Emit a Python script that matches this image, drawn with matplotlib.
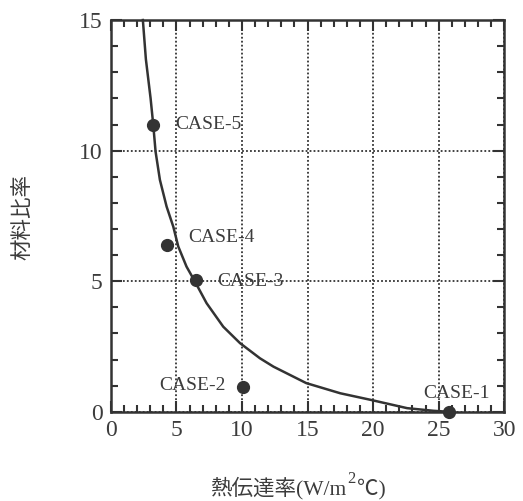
import matplotlib
matplotlib.use("Agg")
import matplotlib.pyplot as plt
from matplotlib.ticker import MultipleLocator

# Curve
curve_x = [2.44, 2.67, 3.03, 3.23, 3.41, 3.74, 4.25, 4.76, 5.14, 5.77, 6.41, 7.30, 8.57, 9.85,
           11.37, 12.4, 14.9, 17.5, 19.8, 22.6, 24.6, 25.8]
curve_y = [15.0, 13.5, 12.0, 11.0, 9.96, 8.88, 7.86, 7.09, 6.33, 5.56, 4.99, 4.16, 3.26, 2.63,
           2.05, 1.73, 1.10, 0.71, 0.46, 0.14, 0.04, 0.0]

# Case points
case_names = ["CASE-1", "CASE-2", "CASE-3", "CASE-4", "CASE-5"]
case_x = [25.8, 10.1, 6.49, 4.25, 3.23]
case_y = [0.0, 0.95, 5.03, 6.39, 11.0]
label_x = [23.8, 3.66, 8.1, 5.9, 4.89]
label_y = [0.71, 1.0, 4.99, 6.66, 11.0]

x_ticks = [0, 5, 10, 15, 20, 25, 30]
y_ticks = [0, 5, 10, 15]

xlabel_parts = ["熱伝達率(W/m", "2", "℃)"]
ylabel_text = "材料比率"

ink = "#333333"
txt = "#3c3c3c"
fig = plt.figure(figsize=(5.23, 5.01), dpi=100)
ax = fig.add_axes([0.212, 0.178, 0.752, 0.782])

ax.plot(curve_x, curve_y, color=ink, lw=1.8, zorder=3, clip_on=False,
        solid_joinstyle="round")
ax.plot(case_x, case_y, "o", color=ink, ms=8.5, zorder=4, clip_on=False)
for n, lx, ly in zip(case_names, label_x, label_y):
    ax.text(lx, ly, n, family="Liberation Serif", fontsize=14, color=txt,
            va="center", ha="left", zorder=5)

ax.set_xlim(0, 30)
ax.set_ylim(0, 15)
ax.set_xticks(x_ticks)
ax.set_yticks(y_ticks)
ax.xaxis.set_minor_locator(MultipleLocator(1))
ax.yaxis.set_minor_locator(MultipleLocator(1))
ax.tick_params(which="both", direction="in", top=True, right=True, color=ink, width=1.5)
ax.tick_params(which="major", length=8, labelsize=17, labelcolor=txt, pad=6)
ax.tick_params(which="minor", length=5)
for lab in ax.get_xticklabels() + ax.get_yticklabels():
    lab.set_family("Liberation Serif")
for s in ax.spines.values():
    s.set_linewidth(1.8)
    s.set_color(ink)

ax.grid(True, which="major", linestyle=(0, (1, 1.2)), color=ink, lw=1.3)

# x label built from pieces so the superscript 2 is large and raised
fam = ["Liberation Serif", "Noto Sans CJK JP", "DejaVu Sans"]
renderer = fig.canvas.get_renderer()
W, H = fig.bbox.width, fig.bbox.height
x0 = 210 / W
ybase = 1 - 494 / H
t1 = fig.text(x0, ybase, xlabel_parts[0], family=fam, fontsize=15.5, color=txt,
              ha="left", va="baseline")
e1 = t1.get_window_extent(renderer)
t2 = fig.text((e1.x1 + 1) / W, ybase + 11 / H, xlabel_parts[1], family=fam, fontsize=12,
              color=txt, ha="left", va="baseline")
e2 = t2.get_window_extent(renderer)
fig.text((e2.x1 + 1) / W, ybase, xlabel_parts[2], family=fam, fontsize=15.5, color=txt,
         ha="left", va="baseline")

fig.text(0.042, 0.567, ylabel_text, family=["Noto Sans CJK JP", "DejaVu Sans"],
         fontsize=15.5, color=txt, ha="center", va="center", rotation=90)

fig.savefig("out.png", dpi=100)
